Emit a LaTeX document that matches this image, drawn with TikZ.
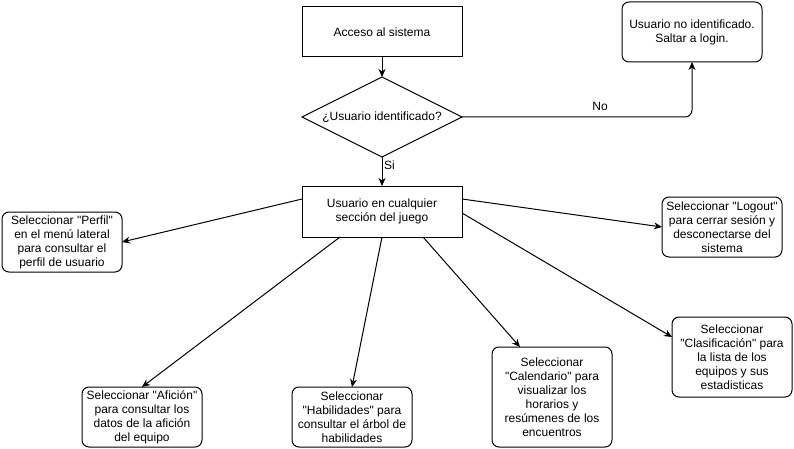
\documentclass[tikz,border=0pt]{standalone}
\usepackage{fontspec}
\setmainfont{Liberation Sans}[Ligatures=TeXOff]
\usetikzlibrary{shapes.geometric,arrows.meta,calc}
\begin{document}
\begin{tikzpicture}[x=1pt,y=-1pt,
  font=\fontsize{12}{14}\selectfont,
  every node/.style={inner sep=0pt, outer sep=0pt},
  boxsq/.style={draw, line width=1pt, minimum width=160pt, minimum height=50pt, align=center},
  boxrd/.style={draw, line width=1pt, rounded corners=7pt, minimum width=120pt, minimum height=60pt, align=center},
  conn/.style={line width=1pt, -{Stealth[length=8pt,width=7pt,inset=2.5pt]}}]
  \useasboundingbox (0,0) rectangle (794,449);

  % main flow
  \node[boxsq] (acceso) at (382,32) {Acceso al sistema};
  \node[draw, line width=1pt, diamond, minimum width=160pt, minimum height=80pt] (ident) at (382,117) {};
  \node (identtext) at (382,117) {¿Usuario identificado?};
  \node[boxsq, minimum height=51pt] (seccion) at (382,211.5) {Usuario en cualquier\\ sección del juego};
  \node[boxrd, minimum width=140pt] (noid) at (692,32) {Usuario no identificado.\\Saltar a login.};

  % options
  \node[boxrd] (perfil) at (62,242) {Seleccionar "Perfil"\\en el menú lateral\\para consultar el\\perfil de usuario};
  \node[boxrd] (logout) at (722,227) {Seleccionar "Logout"\\para cerrar sesión y\\desconectarse del\\sistema};
  \node[boxrd] (aficion) at (142,417) {Seleccionar "Afición"\\para consultar los\\datos de la afición\\del equipo};
  \node[boxrd] (habil) at (352,417) {Seleccionar\\"Habilidades" para\\consultar el árbol de\\habilidades};
  \node[boxrd, minimum height=100pt] (calend) at (552,397) {Seleccionar\\"Calendario" para\\visualizar los\\horarios y\\resúmenes de los\\encuentros};
  \node[boxrd, minimum height=80pt] (clasif) at (732,357) {Seleccionar\\"Clasificación" para\\la lista de los\\equipos y sus\\estadisticas};

  % connectors
  \draw[conn] (acceso) -- (ident);
  \draw[conn] (ident) -- (seccion) node[pos=0.3, anchor=west, xshift=2pt] (si) {Si};
  \draw[conn, rounded corners=7pt] (ident.east) -| (noid.south)
    node[pos=0.3, above, yshift=6pt] (no) {No};
  \draw[conn] ($(seccion.west)+(0,-12.5)$) -- (perfil.east);
  \draw[conn] ($(seccion.east)+(0,-12.5)$) -- (logout.west);
  \draw[conn] ($(seccion.south)+(-42,0)$) -- (aficion.north);
  \draw[conn] (seccion.south) -- (habil.north);
  \draw[conn] ($(seccion.south)+(41,0)$) -- ($(calend.north)+(-32,0)$);
  \draw[conn] ($(seccion.east)+(0,1.5)$) -- ($(clasif.west)+(0,-20)$);
\end{tikzpicture}
\end{document}
